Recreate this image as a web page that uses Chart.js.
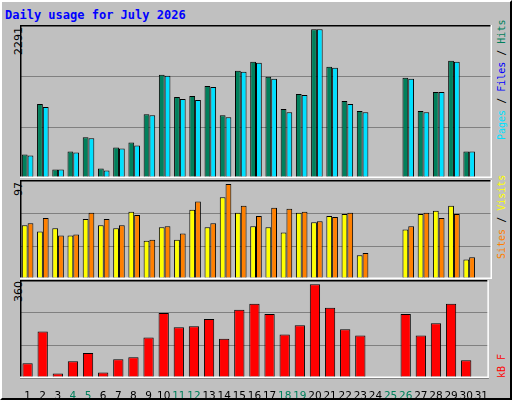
<!DOCTYPE html>
<html><head><meta charset="utf-8">
<script src="https://cdn.jsdelivr.net/npm/chart.js@4"></script>
<style>
body{margin:0;background:#c0c0c0}
#wrap{position:relative;width:508px;height:396px;background:#c0c0c0;border-left:2px solid #fff;border-top:2px solid #fff;border-right:2px solid #000;border-bottom:2px solid #000;overflow:hidden}
canvas{position:absolute}
.t{position:absolute;white-space:nowrap}
.rot{transform:rotate(-90deg);transform-origin:0 0}
.leg{font:10px "DejaVu Sans Mono";}
</style></head><body>
<div id="wrap">
<div class="t" style="left:3px;top:6px;font:bold 12px 'DejaVu Sans Mono';color:#0000ff">Daily usage for July 2026</div>
<div class="t rot" style="left:10px;top:53px;font:11px 'DejaVu Sans'">2291</div>
<div class="t rot" style="left:10px;top:194px;font:11px 'DejaVu Sans'">97</div>
<div class="t rot" style="left:10px;top:300px;font:11px 'DejaVu Sans'">360</div>
<div class="t rot leg" style="left:494px;top:138px"><span style="color:#00e0ff">Pages</span> / <span style="color:#0000ff">Files</span> / <span style="color:#00805c">Hits</span></div>
<div class="t rot leg" style="left:494px;top:257px"><span style="color:#ff8000">Sites</span> / <span style="color:#ffff00">Visits</span></div>
<div class="t rot leg" style="left:494px;top:376px;color:#ff0000">kB F</div>
<canvas id="c1" style="left:18px;top:23px;width:472px;height:153px"></canvas>
<canvas id="c2" style="left:18px;top:178px;width:472px;height:99px"></canvas>
<canvas id="c3" style="left:18px;top:278px;width:472px;height:120px"></canvas>
</div>
<script>
const days = Array.from({length:31},(_,i)=>String(i+1));
const weekendDays = [4,5,11,12,18,19,25,26];
const hits = [362,1140,130,409,627,145,471,549,984,1590,1248,1264,1419,969,1652,1792,1559,1062,1295,2291,1715,1186,1031,0,0,1544,1031,1326,1808,409,0];
const files = [347,1093,130,394,611,114,456,502,969,1575,1217,1202,1404,937,1637,1776,1528,1015,1279,2291,1699,1140,1015,0,0,1528,1015,1326,1792,409,0];
const visits = [54.8,48.5,51.7,44.3,61.1,54.8,51.7,68.5,39,52.7,40,70.6,52.7,83.3,67.5,53.8,52.7,47.4,67.5,58,64.3,66.4,24.2,0,0,50.6,66.4,69.6,74.8,20,0];
const sites = [56.9,62.2,44.3,45.3,67.5,61.1,54.8,65.4,40,53.8,46.4,79,56.9,97,74.8,64.3,72.7,71.7,68.5,59,63.3,67.5,26.4,0,0,53.8,67.5,62.2,66.4,22.1,0];
const kbytes = [56.5,178.7,17,64.4,96,21,72.3,80,155,249.6,194.5,198.4,226,151,261.5,285,245.7,166.9,202.3,360,269.3,186.6,163,0,0,245.7,163,210,285,68.3,0];

const frame = {id:'frame',afterDraw(c){const a=c.chartArea,x=c.ctx;x.save();x.lineWidth=1.5;
 x.strokeStyle='#000';x.beginPath();x.moveTo(a.left+0.75,a.bottom);x.lineTo(a.left+0.75,a.top+0.75);x.lineTo(a.right,a.top+0.75);x.stroke();
 x.strokeStyle='#fff';x.beginPath();x.moveTo(a.right-0.75,a.top);x.lineTo(a.right-0.75,a.bottom-0.75);x.lineTo(a.left,a.bottom-0.75);x.stroke();x.restore();}};

function make(id,datasets,max,step,showX,cat,barP){
 return new Chart(document.getElementById(id),{type:'bar',data:{labels:days,datasets},
  options:{responsive:false,animation:false,devicePixelRatio:1,layout:{padding:0},
   plugins:{legend:{display:false},tooltip:{enabled:false}},
   datasets:{bar:{categoryPercentage:cat,barPercentage:barP,borderColor:'#000',borderWidth:1,borderSkipped:false}},
   scales:{
    x:{display:true,grid:{display:false},border:{display:false},
       ticks:{display:showX,autoSkip:false,maxRotation:0,padding:4,font:{family:'DejaVu Sans',size:10.5},
       color:(ctx)=>weekendDays.includes(ctx.index+1)?'#00805c':'#000'},
       afterFit(s){s.height=showX?22:0;}},
    y:{min:0,max,grid:{color:'#808080',lineWidth:1,drawTicks:false},border:{display:false},
       ticks:{display:false,stepSize:step},afterFit(s){s.width=0;}}
   }},plugins:[frame]});
}
make('c1',[{data:hits,backgroundColor:'#00805c'},{data:files,backgroundColor:'#00e0ff'}],2358,786,false,0.76,1);
make('c2',[{data:visits,backgroundColor:'#ffff00'},{data:sites,backgroundColor:'#ff8000'}],101,33.67,false,0.76,1);
make('c3',[{data:kbytes,backgroundColor:'#ff0000'}],376,125.3,true,0.68,1);
</script></body></html>
